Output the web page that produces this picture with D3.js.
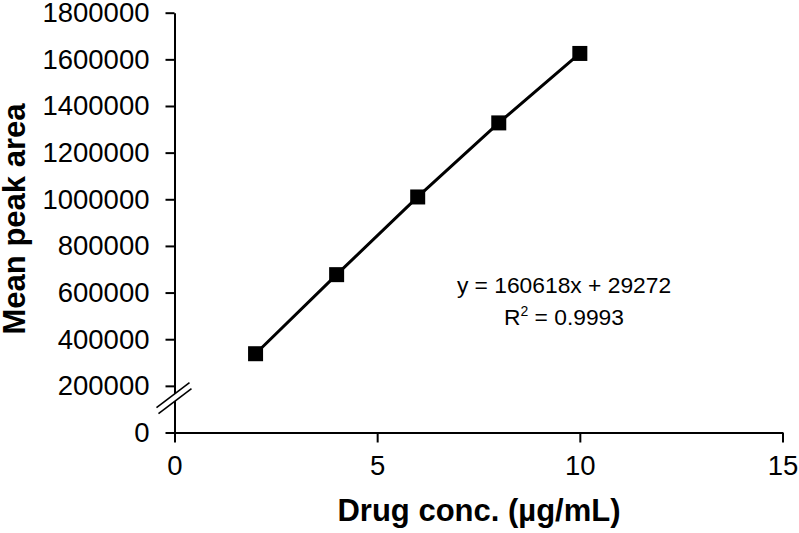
<!DOCTYPE html>
<html>
<head>
<meta charset="utf-8">
<script src="https://cdn.jsdelivr.net/npm/d3@7"></script>
<style>
  html, body { margin: 0; padding: 0; background: #fff; }
  svg { display: block; }
  text { font-family: "Liberation Sans", Arial, sans-serif; }
</style>
</head>
<body>
<svg id="chart" width="799" height="533"></svg>
<script>
// ---- data ----
const concentrations = [2, 4, 6, 8, 10];
const peakAreas = [337800, 676800, 1009900, 1327500, 1625300];
const xTicks = [0, 5, 10, 15];
const yTicks = [0, 200000, 400000, 600000, 800000, 1000000, 1200000, 1400000, 1600000, 1800000];
const xTitle = "Drug conc. (µg/mL)";
const yTitle = "Mean peak area";
const equationLines = ["y = 160618x + 29272", "R2 = 0.9993"];

// ---- chart ----
const svg = d3.select("#chart");
const x = d3.scaleLinear().domain([0, 15]).range([174.5, 782.5]);
const y = d3.scaleLinear().domain([0, 1800000]).range([432.5, 12.7]);

const xAxis = d3.axisBottom(x).tickValues(xTicks).tickSize(10).tickSizeOuter(0).tickPadding(13)
  .tickFormat(d3.format("d"));
const yAxis = d3.axisLeft(y).tickValues(yTicks).tickSize(9).tickSizeOuter(0).tickPadding(16)
  .tickFormat(d3.format("d"));

const gx = svg.append("g").attr("transform", `translate(0,${y(0)})`).call(xAxis);
const gy = svg.append("g").attr("transform", `translate(${x(0)},0)`).call(yAxis);

[gx, gy].forEach(g => {
  g.select(".domain").attr("stroke", "#000").attr("stroke-width", 2);
  g.selectAll(".tick line").attr("stroke", "#000").attr("stroke-width", 2);
  g.selectAll(".tick text").attr("fill", "#000").style("font-size", "27.5px")
    .style("font-family", "'Liberation Sans', Arial, sans-serif");
});

// axis break marks
const bx = x(0), by = y(150000);
const breakG = svg.append("g");
breakG.append("path")
  .attr("d", `M${bx-18},${by+10} L${bx+15},${by-15} L${bx+17},${by-9} L${bx-16},${by+16} Z`)
  .attr("fill", "#fff");
breakG.append("line").attr("x1", bx-18).attr("y1", by+10).attr("x2", bx+15).attr("y2", by-15)
  .attr("stroke", "#000").attr("stroke-width", 1.6);
breakG.append("line").attr("x1", bx-16).attr("y1", by+16).attr("x2", bx+17).attr("y2", by-9)
  .attr("stroke", "#000").attr("stroke-width", 1.6);

// line
const pts = concentrations.map((c, i) => [c, peakAreas[i]]);
svg.append("path")
  .datum(pts)
  .attr("fill", "none")
  .attr("stroke", "#000")
  .attr("stroke-width", 3)
  .attr("d", d3.line().x(d => x(d[0])).y(d => y(d[1])));

// markers
const ms = 15;
svg.append("g").selectAll("rect")
  .data(pts)
  .join("rect")
  .attr("x", d => x(d[0]) - ms / 2)
  .attr("y", d => y(d[1]) - ms / 2)
  .attr("width", ms)
  .attr("height", ms)
  .attr("fill", "#000");

// equation
svg.append("text")
  .attr("x", 564).attr("y", 293)
  .attr("text-anchor", "middle")
  .style("font-size", "22.8px")
  .text(equationLines[0]);
const r2 = svg.append("text")
  .attr("x", 564).attr("y", 325)
  .attr("text-anchor", "middle")
  .style("font-size", "22.8px");
r2.append("tspan").text(equationLines[1].slice(0, 1));
r2.append("tspan").attr("dy", -9).style("font-size", "14px").text(equationLines[1].slice(1, 2));
r2.append("tspan").attr("dy", 9).text(equationLines[1].slice(2));

// titles
svg.append("text")
  .attr("x", 479).attr("y", 521)
  .attr("text-anchor", "middle")
  .style("font-size", "31px").style("font-weight", "bold")
  .text(xTitle);
svg.append("text")
  .attr("transform", "translate(25,219) rotate(-90)")
  .attr("text-anchor", "middle")
  .style("font-size", "31px").style("font-weight", "bold")
  .text(yTitle);
</script>
</body>
</html>
